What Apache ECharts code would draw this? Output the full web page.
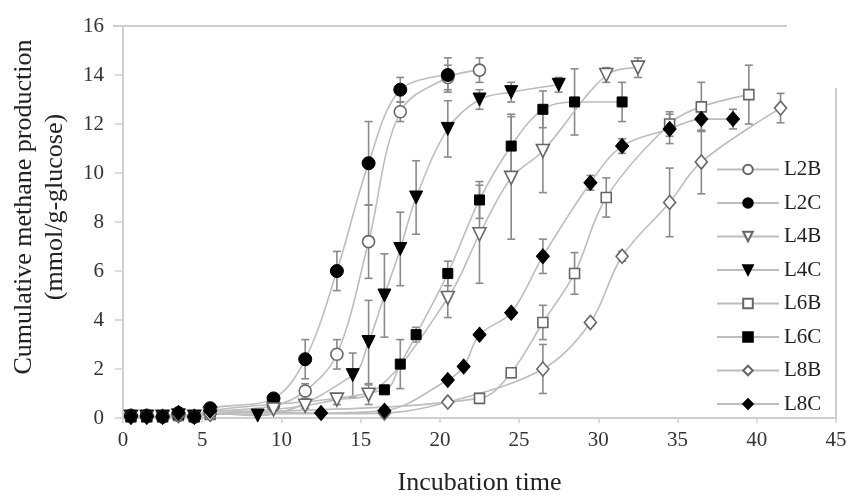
<!DOCTYPE html>
<html>
<head>
<meta charset="utf-8">
<script src="https://cdn.jsdelivr.net/npm/echarts@6/dist/echarts.min.js"></script>
<style>html,body{margin:0;padding:0;background:#fff}#c{width:849px;height:496px}</style>
</head>
<body>
<div id="c"></div>
<script>
// [time, value, error]
const L2B = [[0.5,0.05,0],[1.5,0.05,0],[2.5,0.05,0],[3.5,0.1,0],[4.5,0.05,0],[5.5,0.25,0],[9.5,0.5,0.1],[11.5,1.1,0.3],[13.5,2.6,0.6],[15.5,7.2,1.5],[17.5,12.5,0.4],[20.5,13.9,0.5],[22.5,14.2,0.5]];
const L2C = [[0.5,0.1,0],[1.5,0.1,0],[2.5,0.05,0],[3.5,0.2,0.05],[4.5,0.05,0],[5.5,0.4,0.1],[9.5,0.8,0.1],[11.5,2.4,0.8],[13.5,6.0,0.8],[15.5,10.4,1.7],[17.5,13.4,0.5],[20.5,14.0,0.7]];
const L4B = [[0.5,0.05,0],[1.5,0.05,0],[2.5,0.05,0],[3.5,0.1,0],[4.5,0.05,0],[5.5,0.15,0],[9.5,0.35,0.1],[11.5,0.5,0.1],[13.5,0.75,0.2],[15.5,0.95,0.4],[20.5,4.9,0.8],[22.5,7.5,2.0],[24.5,9.8,2.5],[26.5,10.9,1.7],[30.5,14.0,0.3],[32.5,14.3,0.4]];
const L4C = [[0.5,0.05,0],[1.5,0.05,0],[2.5,0.05,0],[3.5,0.1,0],[4.5,0.05,0],[5.5,0.2,0],[8.5,0.1,0],[14.5,1.75,0.9],[15.5,3.1,1.7],[16.5,5.0,1.7],[17.5,6.9,1.5],[18.5,9.0,1.5],[20.5,11.8,1.15],[22.5,13.0,0.4],[24.5,13.3,0.4],[27.5,13.6,0.3]];
const L6B = [[0.5,0.05,0],[1.5,0.05,0],[2.5,0.05,0],[3.5,0.1,0],[4.5,0.05,0],[5.5,0.15,0],[22.5,0.8,0.2],[24.5,1.85,0.2],[26.5,3.9,0.7],[28.5,5.9,0.85],[30.5,9.0,0.8],[34.5,12.0,0.5],[36.5,12.7,1.0],[39.5,13.2,1.2]];
const L6C = [[0.5,0.05,0],[1.5,0.05,0],[2.5,0.05,0],[3.5,0.15,0],[4.5,0.05,0],[5.5,0.3,0],[16.5,1.15,0.1],[17.5,2.2,1.0],[18.5,3.4,0.3],[20.5,5.9,0.5],[22.5,8.9,0.75],[24.5,11.1,1.3],[26.5,12.6,0.75],[28.5,12.9,1.35],[31.5,12.9,0.8]];
const L8B = [[0.5,0.05,0],[1.5,0.05,0],[2.5,0.05,0],[3.5,0.1,0],[4.5,0.05,0],[5.5,0.15,0],[16.5,0.2,0],[20.5,0.65,0.15],[26.5,2.0,1.0],[29.5,3.9,0.15],[31.5,6.6,0.2],[34.5,8.8,1.4],[36.5,10.45,1.3],[41.5,12.65,0.6]];
const L8C = [[0.5,0.05,0],[1.5,0.05,0],[2.5,0.05,0],[3.5,0.2,0],[4.5,0.05,0],[5.5,0.3,0],[12.5,0.2,0],[16.5,0.3,0],[20.5,1.55,0.1],[21.5,2.1,0.1],[22.5,3.4,0.1],[24.5,4.3,0.1],[26.5,6.6,0.7],[29.5,9.6,0.3],[31.5,11.1,0.3],[34.5,11.8,0.6],[36.5,12.2,0.5],[38.5,12.2,0.4]];

const seriesNames = ['L2B','L2C','L4B','L4C','L6B','L6C','L8B','L8C'];
const seriesData = [L2B,L2C,L4B,L4C,L6B,L6C,L8B,L8C];
const xTicks = [0,5,10,15,20,25,30,35,40,45];
const yTicks = [0,2,4,6,8,10,12,14,16];

const triDown = 'path://M0,0 L10,0 L5,9 Z';
const symbols = ['circle','circle',triDown,triDown,'rect','rect','diamond','diamond'];
const sizes = [12,13,13,13,10,10,[12,14],[13,15]];
const filled = [false,true,false,true,false,true,false,true];
const FONT = '"Liberation Serif","DejaVu Serif",serif';

const chart = echarts.init(document.getElementById('c'));
const series = [];
seriesData.forEach((d, i) => {
  series.push({
    name: seriesNames[i],
    type: 'line',
    data: d.map(p => [p[0], p[1]]),
    smooth: 0.35,
    symbol: symbols[i],
    symbolSize: sizes[i],
    showAllSymbol: true,
    z: 3,
    lineStyle: {color: '#bdbdbd', width: 1.6},
    itemStyle: filled[i]
      ? {color: '#000', borderColor: '#000', borderWidth: 1}
      : {color: '#fff', borderColor: '#666', borderWidth: 1.6},
    emphasis: {disabled: true}
  });
});
const errData = [];
seriesData.forEach(d => d.forEach(p => { if (p[2] > 0) errData.push(p); }));
series.push({
  type: 'custom',
  name: 'err',
  z: 2,
  silent: true,
  data: errData,
  renderItem: function (params, api) {
    const x = api.value(0), y = api.value(1), e = api.value(2);
    const top = api.coord([x, y + e]);
    const bot = api.coord([x, y - e]);
    const w = 4;
    const st = {stroke: '#8a8a8a', lineWidth: 1.6};
    return {type: 'group', children: [
      {type: 'line', shape: {x1: top[0], y1: top[1], x2: bot[0], y2: bot[1]}, style: st},
      {type: 'line', shape: {x1: top[0]-w, y1: top[1], x2: top[0]+w, y2: top[1]}, style: st},
      {type: 'line', shape: {x1: bot[0]-w, y1: bot[1], x2: bot[0]+w, y2: bot[1]}, style: st}
    ]};
  }
});

chart.setOption({
  animation: false,
  backgroundColor: '#fff',
  grid: {left: 123, right: 13, top: 26, bottom: 78, containLabel: false, outerBoundsMode: 'none'},
  xAxis: {
    type: 'value', min: 0, max: 45, interval: 5,
    name: 'Incubation time', nameLocation: 'middle', nameGap: 52,
    nameTextStyle: {fontFamily: FONT, fontSize: 26, color: '#222'},
    axisLine: {lineStyle: {color: '#cfcfcf', width: 2}},
    axisTick: {show: true, length: 5, lineStyle: {color: '#cfcfcf', width: 1.5}},
    axisLabel: {fontFamily: FONT, fontSize: 21, color: '#333', margin: 12,
      customValues: xTicks},
    splitLine: {show: false}
  },
  yAxis: {
    type: 'value', min: 0, max: 16, interval: 2,
    name: 'Cumulative methane production\n(mmol/g-glucose)', nameLocation: 'middle', nameGap: 52,
    nameTextStyle: {fontFamily: FONT, fontSize: 26, color: '#222', lineHeight: 31, padding: [0, 0, 0, 30]},
    axisLine: {show: true, lineStyle: {color: '#cfcfcf', width: 2}},
    axisTick: {show: true, length: 8, lineStyle: {color: '#cfcfcf', width: 1.5}},
    axisLabel: {fontFamily: FONT, fontSize: 21, color: '#333', margin: 19},
    splitLine: {show: false}
  },
  legend: {
    orient: 'vertical', left: 711, top: 154,
    data: seriesNames,
    itemWidth: 62, itemHeight: 12, itemGap: 12.5,
    textStyle: {fontFamily: FONT, fontSize: 21, color: '#222'},
    selectedMode: false
  },
  graphic: [
    {type: 'line', shape: {x1: 113, y1: 26, x2: 787, y2: 26}, style: {stroke: '#cfcfcf', lineWidth: 2}, z: 10},
    {type: 'line', shape: {x1: 836, y1: 88, x2: 836, y2: 418}, style: {stroke: '#cfcfcf', lineWidth: 2}, z: 10}
  ],
  series: series
});
</script>
</body>
</html>
